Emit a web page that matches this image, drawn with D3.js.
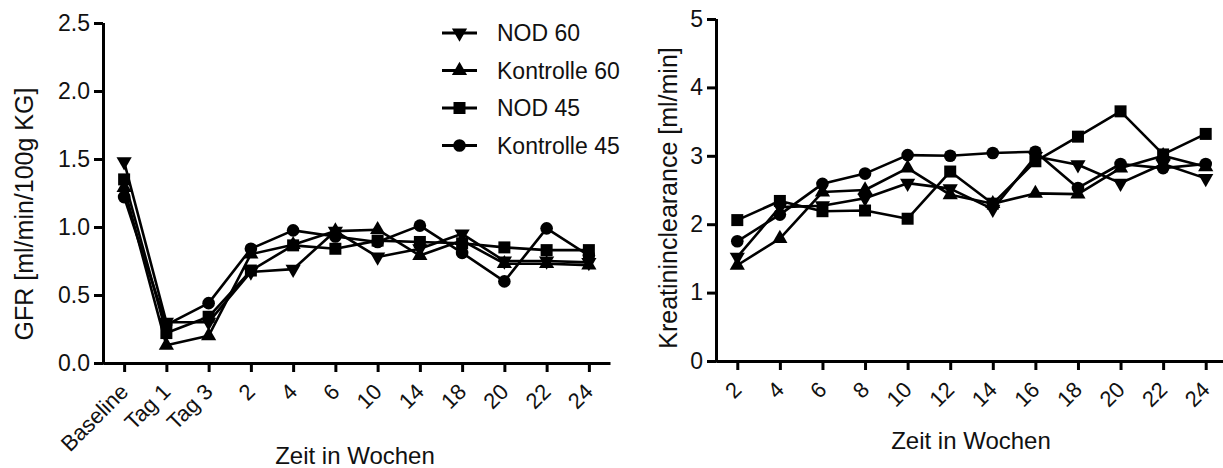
<!DOCTYPE html>
<html>
<head>
<meta charset="utf-8">
<script src="https://cdn.jsdelivr.net/npm/d3@7"></script>
<style>
  html, body { margin: 0; padding: 0; background: #fff; }
  svg { display: block; font-family: "Liberation Sans", Arial, sans-serif; }
</style>
</head>
<body>
<svg id="chart" width="1223" height="468"></svg>
<script>
// ---- Data ----
const seriesNames = ["NOD 60", "Kontrolle 60", "NOD 45", "Kontrolle 45"];

const catsL = ["Baseline", "Tag 1", "Tag 3", "2", "4", "6", "10", "14", "18", "20", "22", "24"];
const nod60L = [1.48, 0.30, 0.30, 0.67, 0.69, 0.97, 0.78, 0.84, 0.95, 0.75, 0.75, 0.74];
const kon60L = [1.29, 0.13, 0.20, 0.80, 0.87, 0.97, 0.98, 0.79, 0.90, 0.73, 0.73, 0.72];
const nod45L = [1.35, 0.22, 0.34, 0.68, 0.865, 0.84, 0.90, 0.89, 0.88, 0.85, 0.83, 0.83];
const kon45L = [1.22, 0.28, 0.44, 0.84, 0.975, 0.93, 0.89, 1.01, 0.81, 0.60, 0.99, 0.79];
const yTicksL = [0, 0.5, 1.0, 1.5, 2.0, 2.5];

const catsR = ["2", "4", "6", "8", "10", "12", "14", "16", "18", "20", "22", "24"];
const nod60R = [1.52, 2.25, 2.27, 2.38, 2.60, 2.52, 2.22, 2.99, 2.87, 2.60, 2.88, 2.67];
const kon60R = [1.40, 1.79, 2.47, 2.50, 2.82, 2.43, 2.30, 2.45, 2.44, 2.82, 3.00, 2.84];
const nod45R = [2.06, 2.34, 2.19, 2.20, 2.08, 2.77, 2.30, 2.92, 3.28, 3.65, 3.02, 3.32];
const kon45R = [1.75, 2.14, 2.59, 2.74, 3.01, 3.00, 3.04, 3.06, 2.53, 2.88, 2.82, 2.88];
const yTicksR = [0, 1, 2, 3, 4, 5];

const svg = d3.select("#chart");
svg.append("rect").attr("width", 1223).attr("height", 468).attr("fill", "#fff");

const symbolFor = {
  "NOD 60": { type: d3.symbolTriangle, size: 100, rot: 180 },
  "Kontrolle 60": { type: d3.symbolTriangle, size: 100, rot: 0 },
  "NOD 45": { type: d3.symbolSquare, size: 144, rot: 0 },
  "Kontrolle 45": { type: d3.symbolCircle, size: 125, rot: 0 }
};

function drawMarker(g, name, x, y) {
  const s = symbolFor[name];
  g.append("path")
    .attr("d", d3.symbol().type(s.type).size(s.size)())
    .attr("transform", `translate(${x},${y}) rotate(${s.rot})`)
    .attr("fill", "#000");
}

function drawPanel(opts) {
  const { cats, series, yDomain, yTicks, xRange, yRange, fmt, yTitle, yTitleX, yTitleY, xTitleX, xTitleY } = opts;
  const x = d3.scalePoint().domain(cats).range(xRange).padding(0.5);
  const y = d3.scaleLinear().domain(yDomain).range(yRange);
  const g = svg.append("g");

  // lines & markers
  const line = d3.line().x((d, i) => x(cats[i])).y(d => y(d));
  series.forEach(s => {
    g.append("path").datum(s.values)
      .attr("d", line).attr("fill", "none")
      .attr("stroke", "#000").attr("stroke-width", 2.6).attr("stroke-linejoin", "round");
  });
  series.forEach(s => {
    s.values.forEach((v, i) => drawMarker(g, s.name, x(cats[i]), y(v)));
  });

  // x axis
  const xa = g.append("g").attr("transform", `translate(0,${yRange[0]})`)
    .call(d3.axisBottom(x).tickSize(9).tickSizeOuter(0));
  xa.selectAll("path, line").attr("stroke", "#000").attr("stroke-width", 3);
  xa.selectAll("text")
    .attr("font-size", 22).attr("fill", "#111")
    .attr("text-anchor", "end")
    .attr("x", 0).attr("y", 0).attr("dy", 0)
    .attr("transform", "translate(5,30) rotate(-45)");

  // y axis
  const ya = g.append("g").attr("transform", `translate(${xRange[0]},0)`)
    .call(d3.axisLeft(y).tickValues(yTicks).tickFormat(fmt).tickSize(9).tickSizeOuter(0).tickPadding(4));
  ya.selectAll("path, line").attr("stroke", "#000").attr("stroke-width", 3);
  ya.selectAll("text").attr("font-size", 23).attr("fill", "#111");
  ya.select(".domain").attr("d", `M0.5,${yRange[0] + 1.5}V${yRange[1]}`);

  // titles
  g.append("text")
    .attr("transform", `translate(${yTitleX},${yTitleY}) rotate(-90)`)
    .attr("text-anchor", "middle").attr("font-size", 25).attr("fill", "#111")
    .text(yTitle);
  g.append("text")
    .attr("x", xTitleX).attr("y", xTitleY)
    .attr("text-anchor", "middle").attr("font-size", 24).attr("fill", "#111")
    .text("Zeit in Wochen");
}

drawPanel({
  cats: catsL,
  series: [
    { name: "NOD 60", values: nod60L },
    { name: "Kontrolle 60", values: kon60L },
    { name: "NOD 45", values: nod45L },
    { name: "Kontrolle 45", values: kon45L }
  ],
  yDomain: [0, 2.5], yTicks: yTicksL, xRange: [103, 610], yRange: [363, 23],
  fmt: d3.format(".1f"),
  yTitle: "GFR [ml/min/100g KG]", yTitleX: 33, yTitleY: 214,
  xTitleX: 355, xTitleY: 464
});

drawPanel({
  cats: catsR,
  series: [
    { name: "NOD 60", values: nod60R },
    { name: "Kontrolle 60", values: kon60R },
    { name: "NOD 45", values: nod45R },
    { name: "Kontrolle 45", values: kon45R }
  ],
  yDomain: [0, 5], yTicks: yTicksR, xRange: [716, 1227], yRange: [361, 19],
  fmt: d3.format("d"),
  yTitle: "Kreatininclearance [ml/min]", yTitleX: 677, yTitleY: 198,
  xTitleX: 971, xTitleY: 449
});

// legend
const lg = svg.append("g");
seriesNames.forEach((name, i) => {
  const cy = 33 + i * 37.5;
  lg.append("line").attr("x1", 442).attr("x2", 477).attr("y1", cy).attr("y2", cy)
    .attr("stroke", "#000").attr("stroke-width", 3);
  drawMarker(lg, name, 459.5, cy);
  lg.append("text").attr("x", 497).attr("y", cy).attr("dy", "0.36em")
    .attr("font-size", 23).attr("fill", "#111").text(name);
});
</script>
</body>
</html>
